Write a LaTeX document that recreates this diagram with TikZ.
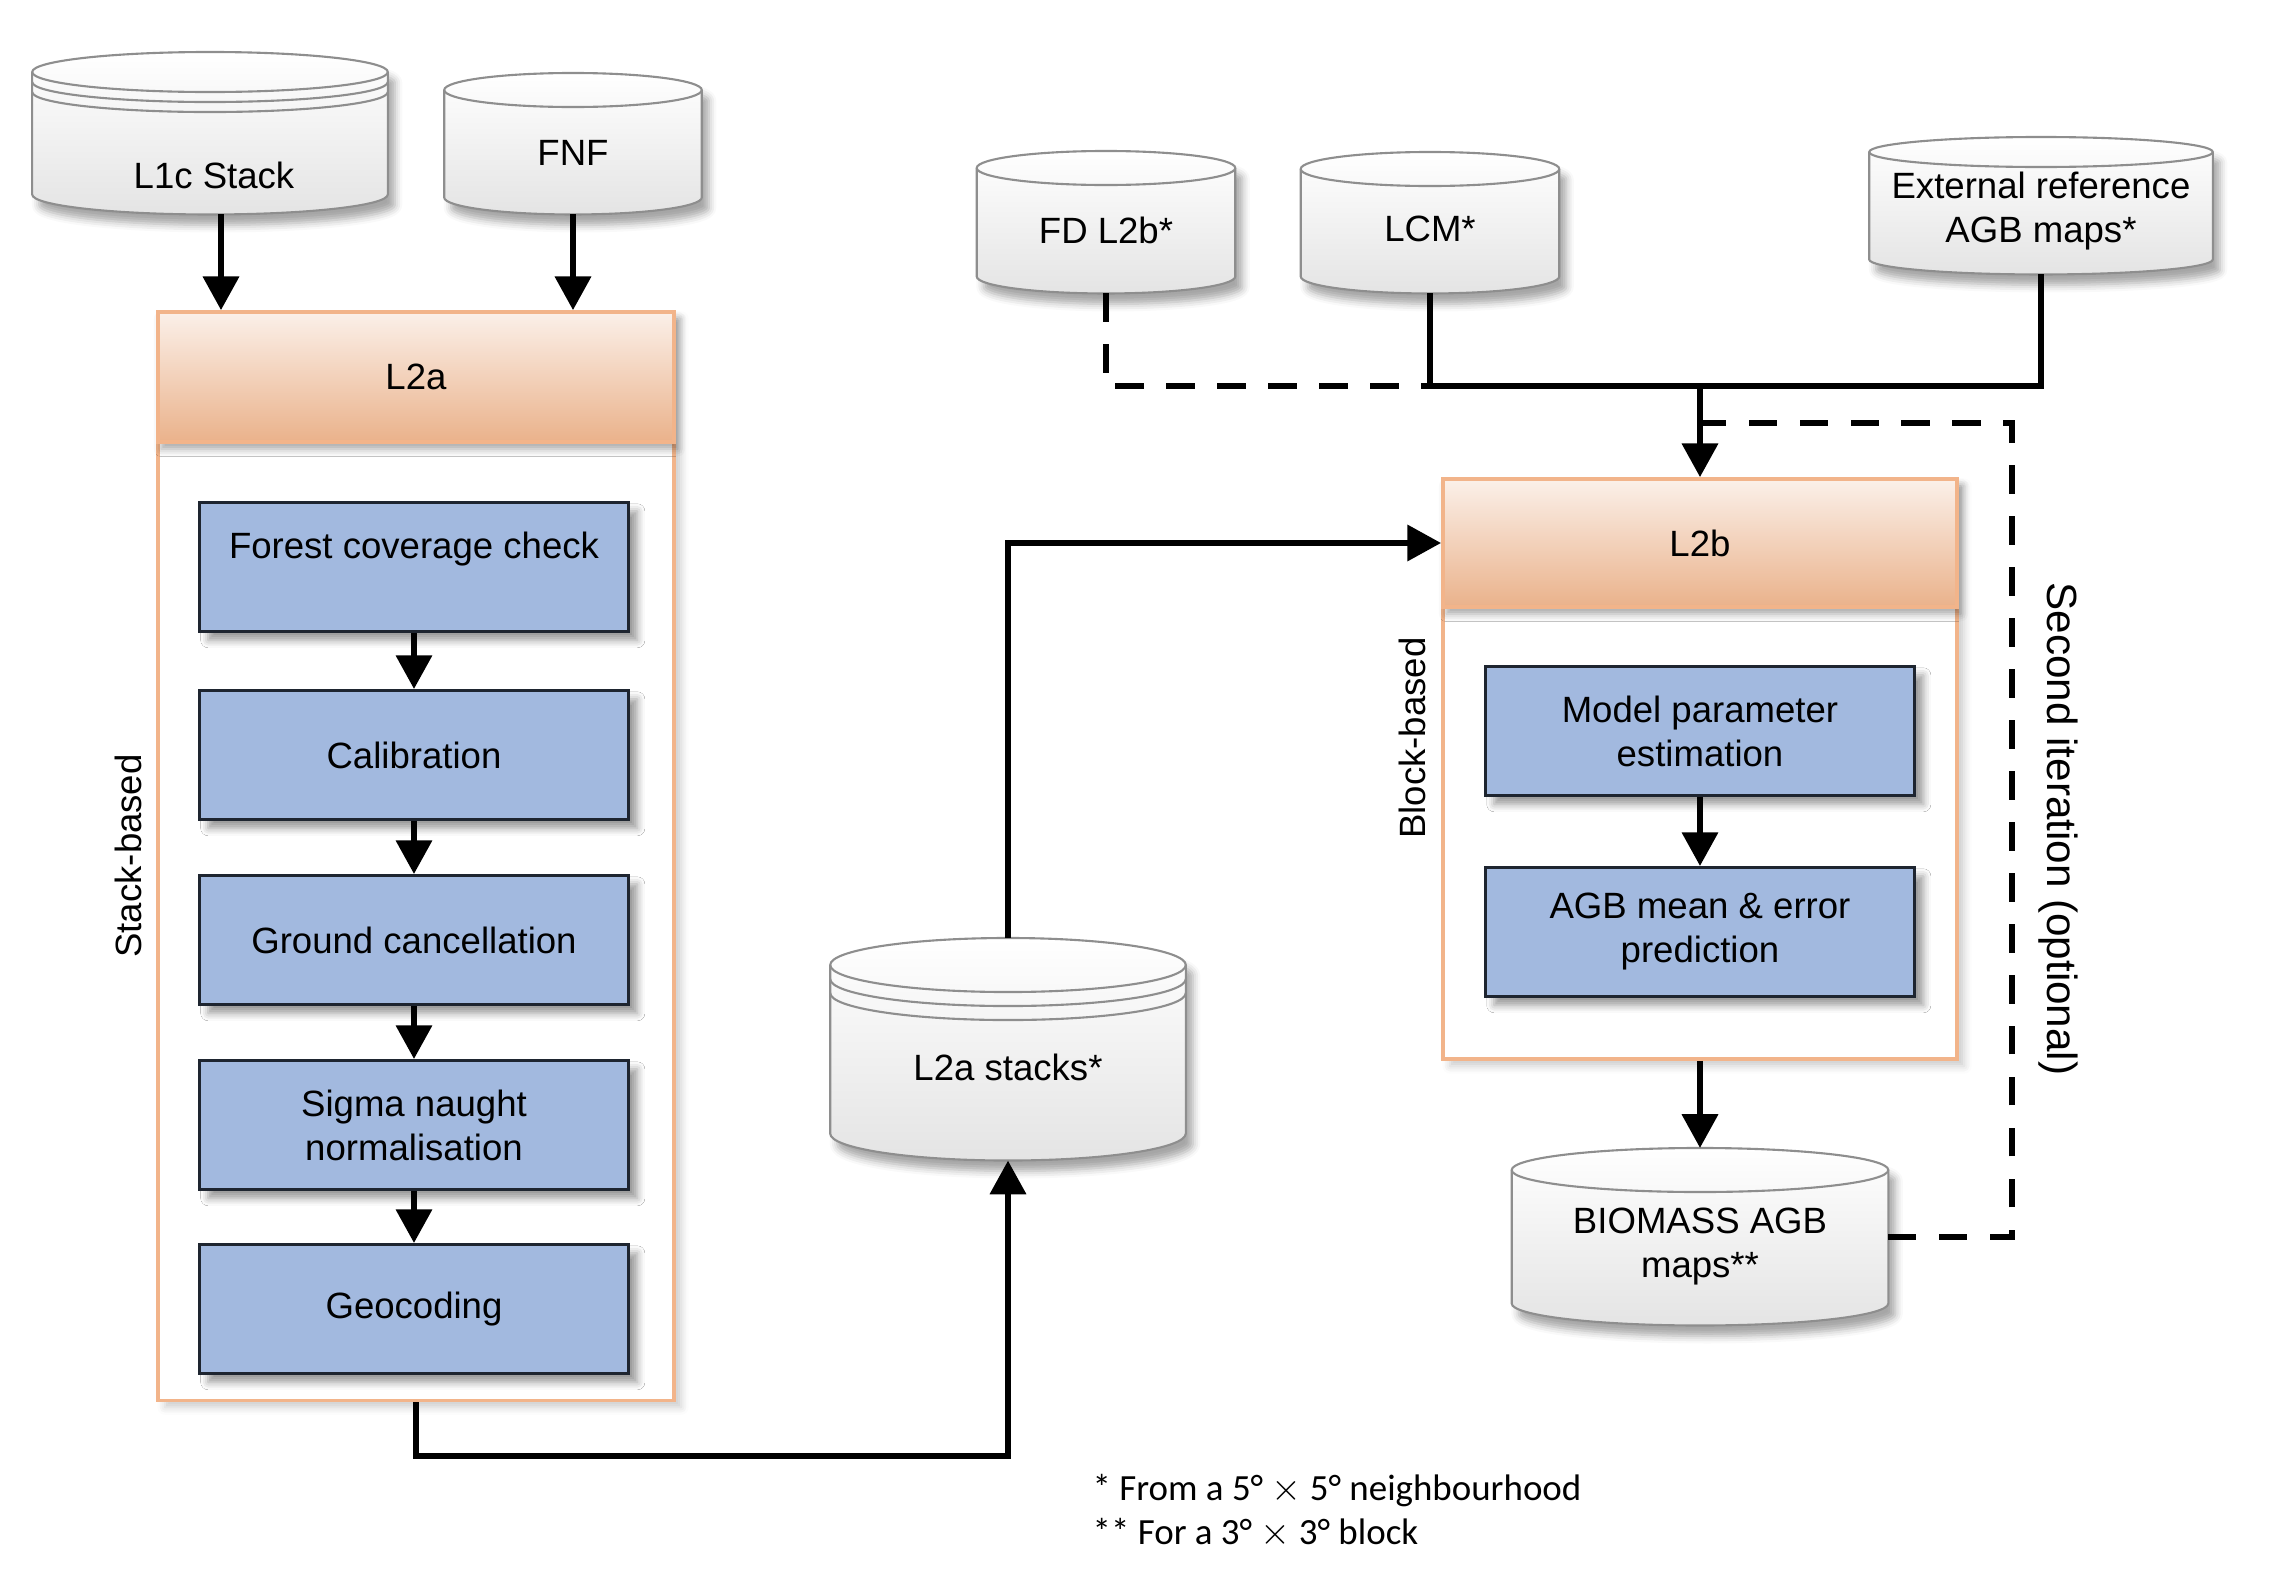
\documentclass[tikz,border=0pt]{standalone}
\usepackage{fontspec}
\setmainfont{Liberation Sans}
\newfontfamily\notefont{Carlito}
\usetikzlibrary{arrows.meta}
\usetikzlibrary{calc}
\usetikzlibrary{shadows.blur}

\definecolor{procblue}{HTML}{A2B9DF}
\definecolor{procedge}{HTML}{1E2530}
\definecolor{hdtop}{HTML}{FBF0E9}
\definecolor{hdbot}{HTML}{EAB28B}
\definecolor{hdedge}{HTML}{F2B48A}
\definecolor{dbedge}{HTML}{8E8E8E}
\definecolor{dbbot}{HTML}{E4E4E4}

\begin{document}
\begin{tikzpicture}[x=0.01cm, y=-0.01cm, font=\fontsize{10.4}{12.5}\selectfont,
        frame_style/.style={rectangle, draw=hdedge, line width=1pt, fill=white,
            blur shadow={shadow xshift=2pt, shadow yshift=-2pt, shadow opacity=20}},
        head_style/.style={rectangle, draw=hdedge, line width=1pt, top color=hdtop, bottom color=hdbot,
            blur shadow={shadow xshift=1pt, shadow yshift=-2pt, shadow opacity=35}},
        proc_style/.style={rectangle, draw=procedge, line width=0.8pt, fill=procblue, align=center,
            minimum width=4.29cm, minimum height=1.29cm, inner sep=0pt,
            blur shadow={shadow xshift=2.5pt, shadow yshift=-2.5pt, shadow opacity=40}},
        store_style/.style={rectangle, anchor=north, inner sep=0pt},
        store_body/.style={draw=dbedge, line width=0.6pt, top color=white, bottom color=dbbot,
            blur shadow={shadow xshift=2pt, shadow yshift=-3pt, shadow opacity=35}},
        store_text/.style={align=center, inner sep=0pt},
        ring_style/.style={draw=dbedge, line width=0.6pt},
        side_style/.style={inner sep=0pt},
        note_style/.style={anchor=west, align=left, inner sep=0pt, font=\notefont\fontsize{10.5}{12.4}\selectfont},
        flow_style/.style={draw=black, line width=1.8pt, -{Triangle[length=9.6pt,width=10pt]}},
        link_style/.style={draw=black, line width=1.8pt},
        opt_style/.style={draw=black, line width=1.8pt, dash pattern=on 8pt off 6.5pt}]

    \useasboundingbox (0,0) rectangle (2274,1570);

    % L2a processing
    \node [frame_style, minimum width=5.16cm, minimum height=10.88cm] (l2a) at (416,856) {};
    \node [head_style, minimum width=5.16cm, minimum height=1.30cm] (l2ahd) at (416,377) {L2a};
    \node [proc_style] (fcc) at (414,567) {Forest coverage check\\ \mbox{}};
    \node [proc_style] (cal) at (414,755) {Calibration};
    \node [proc_style] (gnd) at (414,940) {Ground cancellation};
    \node [proc_style] (sig) at (414,1125) {Sigma naught\\normalisation};
    \node [proc_style] (geo) at (414,1309) {Geocoding};
    \node [side_style, rotate=90] (stackbased) at (128,856) {Stack-based};

    % L2b processing
    \node [frame_style, minimum width=5.14cm, minimum height=5.80cm] (l2b) at (1700,769) {};
    \node [head_style, minimum width=5.14cm, minimum height=1.28cm] (l2bhd) at (1700,543) {L2b};
    \node [proc_style] (mpe) at (1700,731) {Model parameter\\estimation};
    \node [proc_style] (agb) at (1700,932) {AGB mean \& error\\prediction};
    \node [side_style, rotate=90] (blockbased) at (1412,738) {Block-based};

    % data stores
    \node [store_style, minimum width=3.54cm, minimum height=1.61cm] (l1c) at (210,52) {};
    \node [store_style, minimum width=2.56cm, minimum height=1.40cm] (fnf) at (573,73) {};
    \node [store_style, minimum width=2.57cm, minimum height=1.41cm] (fdl2b) at (1106,151) {};
    \node [store_style, minimum width=2.57cm, minimum height=1.40cm] (lcm) at (1430,152) {};
    \node [store_style, minimum width=3.42cm, minimum height=1.36cm] (extref) at (2041,137) {};
    \node [store_style, minimum width=3.54cm, minimum height=2.21cm] (stacks) at (1008,938) {};
    \node [store_style, minimum width=3.75cm, minimum height=1.76cm] (agbmaps) at (1700,1148) {};

    \foreach \s/\r in {l1c/0.20cm, fnf/0.17cm, fdl2b/0.17cm, lcm/0.17cm, extref/0.15cm, stacks/0.27cm, agbmaps/0.22cm} {
        \path [store_body] let \p1=(\s.north west), \p2=(\s.south east), \n1={(\x2-\x1)/2} in
            (\x1,\y1-\r) -- (\x1,\y2+\r)
            arc [start angle=180, end angle=360, x radius=\n1, y radius=\r]
            -- (\x2,\y1-\r)
            arc [start angle=0, end angle=180, x radius=\n1, y radius=\r] -- cycle;
        \draw [ring_style] let \p1=(\s.north west), \p2=(\s.south east), \n1={(\x2-\x1)/2} in
            (\x1,\y1-\r) arc [start angle=180, end angle=360, x radius=\n1, y radius=\r];
    }
    % stacked rings
    \foreach \s/\r/\d in {l1c/0.20cm/0.10cm, l1c/0.20cm/0.20cm, stacks/0.27cm/0.14cm, stacks/0.27cm/0.28cm}
        \draw [ring_style] let \p1=(\s.north west), \p2=(\s.south east), \n1={(\x2-\x1)/2} in
            (\x1,\y1-\r-\d) arc [start angle=180, end angle=360, x radius=\n1, y radius=\r];

    \node [store_text] (l1ctext) at (214,175) {L1c Stack};
    \node [store_text] (fnftext) at (573,153) {FNF};
    \node [store_text] (fdl2btext) at (1106,230) {FD L2b*};
    \node [store_text] (lcmtext) at (1430,229) {LCM*};
    \node [store_text] (extreftext) at (2041,211) {External reference\\AGB maps*};
    \node [store_text] (stackstext) at (1008,1067) {L2a stacks*};
    \node [store_text] (agbmapstext) at (1700,1247) {BIOMASS AGB\\maps**};

    \coordinate (bus) at (1700,386);
    \coordinate (loop) at (2012,423);

    % connectors
    \draw [flow_style] ([xshift=0.11cm]l1c.south) -- ([xshift=0.11cm]l1c.south |- l2ahd.north);
    \draw [flow_style] (fnf.south) -- (fnf.south |- l2ahd.north);
    \foreach \a/\b in {fcc/cal, cal/gnd, gnd/sig, sig/geo}
        \draw [flow_style] (\a) -- (\b);
    \draw [flow_style] (l2a.south) -- ++(0,54) -| (stacks.south);
    \draw [flow_style] (stacks.north) |- (l2bhd.west);
    \draw [opt_style] (fdl2b.south) |- (lcm.south |- bus);
    \draw [link_style] (lcm.south) |- (bus) -| (extref.south);
    \draw [flow_style] (bus) -- (l2bhd.north);
    \draw [flow_style] (mpe) -- (agb);
    \draw [flow_style] (l2b.south) -- (agbmaps.north);
    \draw [opt_style] (agbmaps.east) -| (loop) -- (loop -| bus);

    \node [side_style, rotate=-90, font=\fontsize{12}{14}\selectfont] (second) at (2058,829) {Second iteration (optional)};
    \node [note_style] (notes) at (1092,1511) {* From a 5° $\times$ 5° neighbourhood\\{}** For a 3° $\times$ 3° block};
\end{tikzpicture}
\end{document}
